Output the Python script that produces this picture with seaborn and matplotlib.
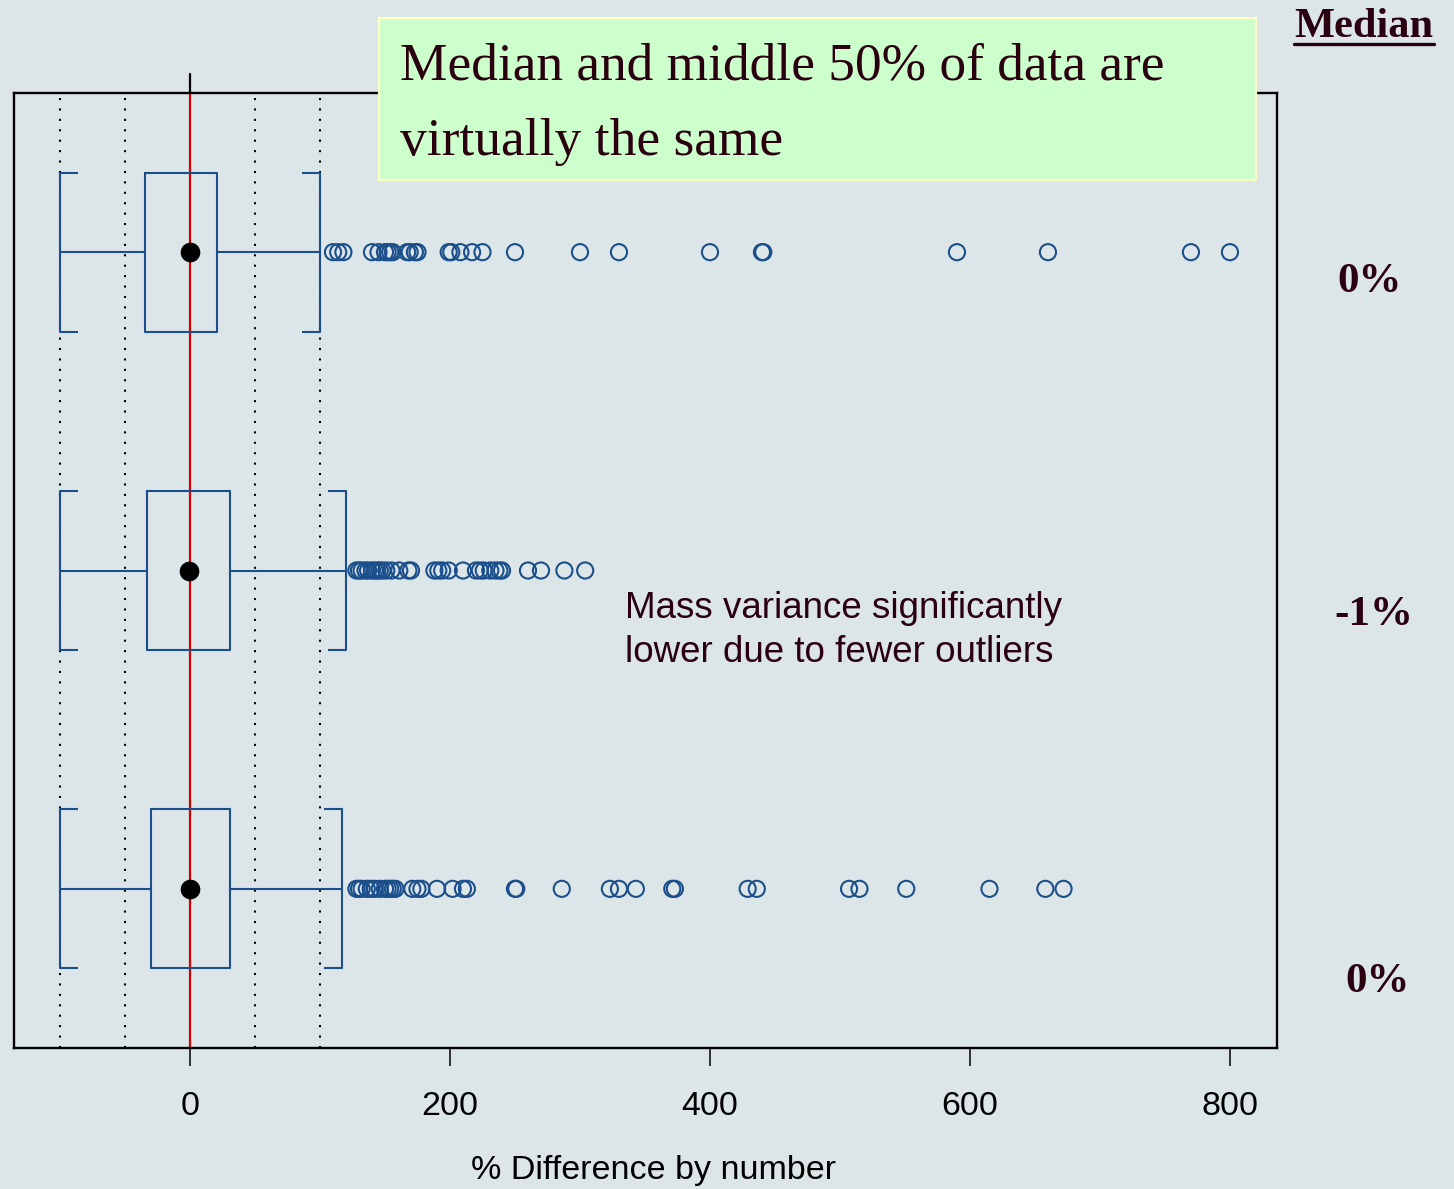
import numpy as np
import pandas as pd
import matplotlib
matplotlib.use("Agg")
import matplotlib.pyplot as plt
import matplotlib.transforms as mtransforms
from matplotlib.patches import Rectangle
import seaborn as sns

# --- data -----------------------------------------------------------------
rows = [0, 1, 2]                       # top, middle, bottom box
median_labels = ["0%", "-1%", "0%"]

q1 = [-34.6, -33.0, -30.0]
medians = [0.0, -1.0, 0.0]
q3 = [20.8, 30.8, 30.8]
whisker_lo = [-100.0, -100.0, -100.0]
whisker_hi = [100.0, 120.0, 117.0]

outliers_top = [110, 114, 118, 140, 145, 150, 152, 154, 156, 167, 169, 173,
                175, 199, 201, 208, 217, 225, 250, 300, 330, 400, 440, 441,
                590, 660, 770, 800]
outliers_mid = [128, 130, 132, 135, 137, 140, 142, 144, 146, 148, 151, 155,
                161, 168, 170, 188, 191, 194, 199, 210, 220, 223, 226, 231,
                235, 238, 240, 260, 270, 288, 304]
outliers_bot = [128, 130, 132, 136, 139, 142, 146, 150, 152, 154, 156, 158,
                171, 175, 178, 190, 202, 210, 213, 250, 251, 286, 323, 330,
                343, 371, 373, 429, 436, 507, 515, 551, 615, 658, 672]

ref_lines = [-100, -50, 50, 100]
xticks = [0, 200, 400, 600, 800]

# --- style ----------------------------------------------------------------
BG = "#dce6e8"
BLUE = "#1b4f8c"
TEXT = "#2a0010"

sns.set_theme(style="white", rc={"figure.facecolor": BG, "axes.facecolor": BG,
                                 "savefig.facecolor": BG})
plt.rcParams["font.family"] = ["Liberation Sans", "DejaVu Sans"]

fig = plt.figure(figsize=(14.54, 11.89), dpi=100)
ax = fig.add_axes([14 / 1454, 1 - 1048 / 1189, (1277 - 14) / 1454, (1048 - 93) / 1189])

# reference lines
for v in ref_lines:
    ax.axvline(v, color="black", ls=(0, (1, 4)), lw=1.5, zorder=1)
ax.axvline(0, color="#d40000", lw=1.6, zorder=2)
trans = mtransforms.blended_transform_factory(ax.transData, fig.transFigure)
ax.plot([0, 0], [1 - 93 / 1189, 1 - 74 / 1189], color="black", lw=1.6,
        transform=trans, clip_on=False)

# boxes from summary statistics
stats = [dict(q1=a, med=m, q3=b, whislo=lo, whishi=hi, fliers=[])
         for a, m, b, lo, hi in zip(q1, medians, q3, whisker_lo, whisker_hi)]
box_w = 0.5
line_kw = dict(color=BLUE, lw=1.5)
ax.bxp(stats, positions=rows, widths=box_w, capwidths=box_w,
       orientation="horizontal", showfliers=False,
       boxprops=line_kw, whiskerprops=line_kw, capprops=line_kw,
       medianprops=dict(lw=0), manage_ticks=False)

# bracket stubs at whisker ends
stub = 14
for r, lo, hi in zip(rows, whisker_lo, whisker_hi):
    for yy in (r - box_w / 2, r + box_w / 2):
        ax.hlines(yy, lo, lo + stub, **line_kw)
        ax.hlines(yy, hi - stub, hi, **line_kw)

# outliers
flier_df = pd.DataFrame({
    "value": outliers_top + outliers_mid + outliers_bot,
    "row": [0] * len(outliers_top) + [1] * len(outliers_mid) + [2] * len(outliers_bot),
})
sns.scatterplot(data=flier_df, x="value", y="row", ax=ax, s=135,
                facecolor="none", edgecolor=BLUE, linewidth=1.5, zorder=3)

# medians
med_df = pd.DataFrame({"value": medians, "row": rows})
sns.scatterplot(data=med_df, x="value", y="row", ax=ax, s=200,
                color="black", edgecolor="black", linewidth=0, zorder=4)

ax.set_xlim(-135.4, 836.2)
ax.set_ylim(2.5, -0.5)
ax.set_yticks([])
ax.set_xticks(xticks)
ax.tick_params(axis="x", direction="out", length=13, width=1.1, pad=18,
               labelsize=24.5, colors="black", labelcolor="black", bottom=True)
ax.set_xlabel("% Difference by number", fontsize=24.5, color="black")
ax.xaxis.set_label_coords((654 - 14) / (1277 - 14), -(1170 - 1048) / (1048 - 93))
ax.xaxis.label.set_va("center")
ax.set_ylabel("")
for sp in ax.spines.values():
    sp.set_color("black")
    sp.set_linewidth(1.7)
    sp.set_visible(True)

# headline box
fig.patches.append(Rectangle((379 / 1454, 1 - 180 / 1189), 877 / 1454, 162 / 1189,
                             transform=fig.transFigure, facecolor="#ccffcc",
                             edgecolor="#ffffc8", lw=1.5, zorder=5))
serif = ["Liberation Serif", "DejaVu Serif"]
fig.text(400 / 1454, 1 - 80 / 1189, "Median and middle 50% of data are",
         family=serif, fontsize=38.4, color=TEXT, va="baseline", zorder=6)
fig.text(400 / 1454, 1 - 155 / 1189, "virtually the same",
         family=serif, fontsize=38.4, color=TEXT, va="baseline", zorder=6)

# note on the middle row
ax.text(625 / 1454, 1 - 618 / 1189, "Mass variance significantly",
        transform=fig.transFigure, fontsize=26.5, color=TEXT, va="baseline")
ax.text(625 / 1454, 1 - 662 / 1189, "lower due to fewer outliers",
        transform=fig.transFigure, fontsize=26.5, color=TEXT, va="baseline")

# median labels on the right
fig.text(1364 / 1454, 1 - 37 / 1189, "Median", family=serif, fontsize=30.5,
         fontweight="bold", color=TEXT, ha="center", va="baseline")
fig.add_artist(plt.Line2D([1294 / 1454, 1434 / 1454], [1 - 44 / 1189] * 2,
                          color=TEXT, lw=2.4, transform=fig.transFigure))
label_pos = [(1370, 292), (1374, 625), (1378, 992)]
for lab, (px, py) in zip(median_labels, label_pos):
    fig.text(px / 1454, 1 - py / 1189, lab, family=serif, fontsize=31,
             fontweight="bold", color=TEXT, ha="center", va="baseline")

fig.savefig("out.png", dpi=100, facecolor=BG)
